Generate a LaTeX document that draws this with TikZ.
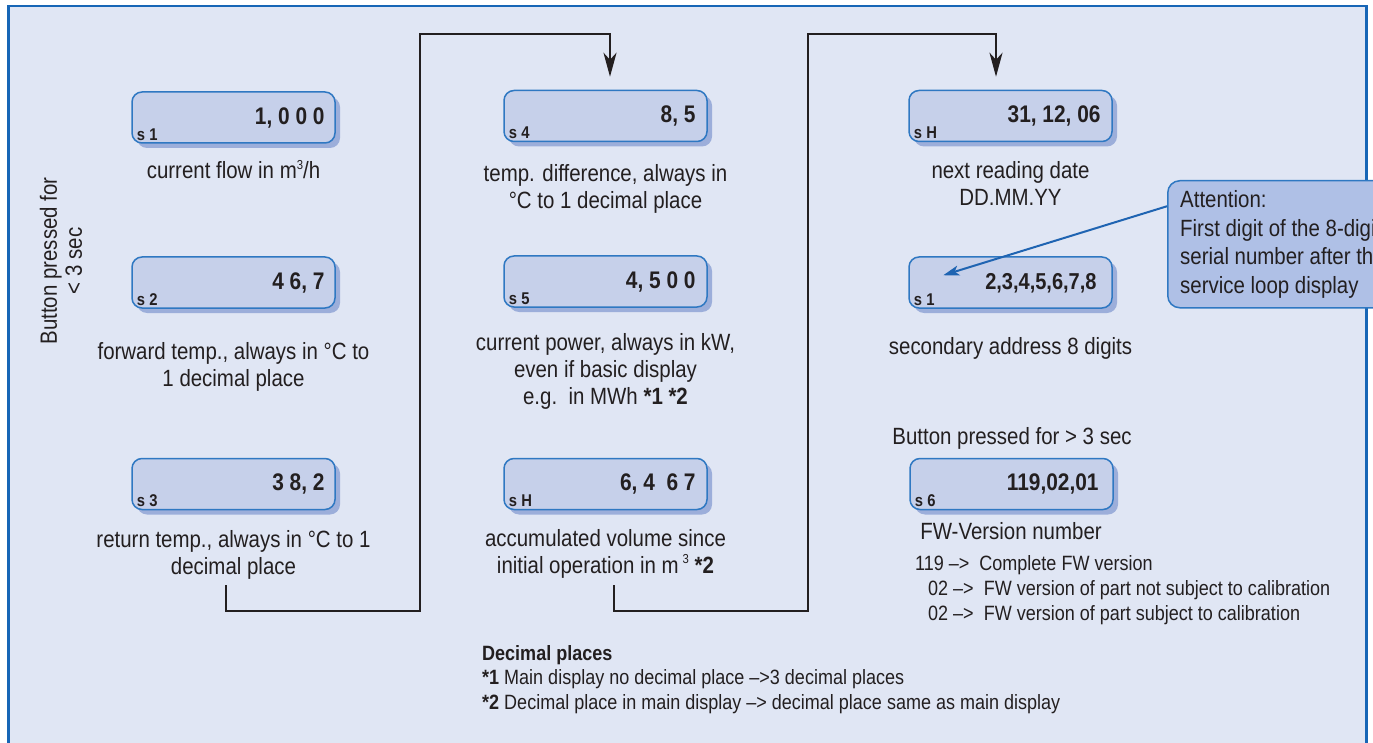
\documentclass[tikz,border=0pt]{standalone}
\usepackage{fontspec}
\setmainfont{Liberation Sans}[FakeStretch=0.87]
\usetikzlibrary{arrows.meta,shadows}

\definecolor{bgcol}{HTML}{E0E6F4}
\definecolor{framecol}{HTML}{1766B6}
\definecolor{boxfill}{HTML}{C6D0EA}
\definecolor{boxline}{HTML}{2F78C2}
\definecolor{shadowcol}{HTML}{9CAEDA}
\definecolor{callfill}{HTML}{AFC0E6}
\definecolor{txtcol}{HTML}{231F20}
\definecolor{pointcol}{HTML}{1F64B2}

\newcommand\labfont{\fontsize{23.5}{27}\selectfont}
\newcommand\callfont{\fontsize{23.5}{28.8}\selectfont}
\newcommand\valfont{\fontsize{24}{28}\selectfont\bfseries}
\newcommand\tagfont{\fontsize{17}{20}\selectfont\bfseries}
\newcommand\fwfont{\fontsize{20.7}{25}\selectfont}
\newcommand\notefont{\fontsize{20.7}{25}\selectfont}
% small raised exponent for units
\newcommand\unitexp[1]{\raisebox{0.42em}{\fontsize{13}{13}\selectfont #1}}

\begin{document}
\begin{tikzpicture}[x=1pt,y=-1pt,
  disp/.style={draw=boxline, line width=1.5pt, fill=boxfill, rounded corners=10pt,
    minimum width=203pt, minimum height=51pt, inner sep=0pt,
    drop shadow={shadow xshift=5pt, shadow yshift=-5pt, fill=shadowcol, opacity=1}},
  val/.style={font=\valfont, text=txtcol, inner sep=0pt, anchor=base east},
  tag/.style={font=\tagfont, text=txtcol, inner sep=0pt, anchor=base west},
  lbl/.style={font=\labfont, text=txtcol, align=center, inner sep=0pt},
  fwline/.style={font=\fwfont, text=txtcol, inner sep=0pt, anchor=base west},
  noteline/.style={font=\notefont, text=txtcol, inner sep=0pt, anchor=base west},
  flow/.style={draw=txtcol, line width=2.5pt, line join=miter, shorten >=13pt,
    -{Stealth[length=24pt, width=13pt, inset=7pt]}},
  pointer/.style={draw=pointcol, line width=2pt,
    -{Stealth[length=16pt, width=10pt, inset=4pt]}},
  callout/.style={draw=boxline, line width=1.5pt, fill=callfill, rounded corners=12pt,
    minimum width=260pt, minimum height=127pt, inner sep=0pt, anchor=north west}]

% page, clipping and outer frame
\useasboundingbox (0,0) rectangle (1373,743);
\clip (0,0) rectangle (1373,743);
\fill[white] (0,0) rectangle (1373,743);
\draw[draw=framecol, line width=2.6pt, fill=bgcol] (8.7,6.2) rectangle (1366.5,800);

% rotated hint on the left
\node[lbl, rotate=90, font=\fontsize{23.5}{25}\selectfont] (hint) at (61,261)
  {Button pressed for\\< 3 sec};

% ---- column 1 ----
\node[disp] (d1) at (233.5,117.5) {};
\node[val] (v1) at ([xshift=-11pt,yshift=-33pt]d1.north east) {1, 0 0 0};
\node[tag] (t1) at ([xshift=5.5pt,yshift=3.3pt]d1.south west) {s 1};
\node[lbl, anchor=base] (l1) at (233.5,179) {current flow in m\unitexp{3}/h};

\node[disp] (d2) at (233.5,282.5) {};
\node[val] (v2) at ([xshift=-11pt,yshift=-33pt]d2.north east) {4 6, 7};
\node[tag] (t2) at ([xshift=5.5pt,yshift=3.3pt]d2.south west) {s 2};
\node[lbl, anchor=north] (l2) at (233.5,342) {forward temp., always in °C to\\1 decimal place};

\node[disp] (d3) at (233.5,484) {};
\node[val] (v3) at ([xshift=-11pt,yshift=-33pt]d3.north east) {3 8, 2};
\node[tag] (t3) at ([xshift=5.5pt,yshift=3.3pt]d3.south west) {s 3};
\node[lbl, anchor=north] (l3) at (233.5,530) {return temp., always in °C to 1\\decimal place};

% ---- column 2 ----
\node[disp] (d4) at (605.5,116) {};
\node[val] (v4) at ([xshift=-12pt,yshift=-33pt]d4.north east) {8, 5};
\node[tag] (t4) at ([xshift=5.5pt,yshift=3.3pt]d4.south west) {s 4};
\node[lbl, anchor=north] (l4) at (605.5,164) {temp. difference, always in\\°C to 1 decimal place};

\node[disp] (d5) at (605.5,281.5) {};
\node[val] (v5) at ([xshift=-12pt,yshift=-33pt]d5.north east) {4, 5 0 0};
\node[tag] (t5) at ([xshift=5.5pt,yshift=3.3pt]d5.south west) {s 5};
\node[lbl, anchor=north] (l5) at (605.5,333)
  {current power, always in kW,\\even if basic display\\e.g.\ \ in MWh \textbf{*1 *2}};

\node[disp] (d6) at (605.5,484) {};
\node[val] (v6) at ([xshift=-12pt,yshift=-33pt]d6.north east) {6, 4\ \ 6 7};
\node[tag] (t6) at ([xshift=5.5pt,yshift=3.3pt]d6.south west) {s H};
\node[lbl, anchor=north] (l6) at (605.5,529)
  {accumulated volume since\\initial operation in m\,\unitexp{3} \textbf{*2}};

% ---- column 3 ----
\node[disp] (d7) at (1010.5,116) {};
\node[val] (v7) at ([xshift=-12pt,yshift=-33pt]d7.north east) {31, 12, 06};
\node[tag] (t7) at ([xshift=5.5pt,yshift=3.3pt]d7.south west) {s H};
\node[lbl, anchor=north] (l7) at (1010.5,161) {next reading date\\DD.MM.YY};

\node[disp] (d8) at (1010.5,282.5) {};
\node[val, font=\fontsize{23}{28}\selectfont\bfseries] (v8)
  at ([xshift=-16pt,yshift=-33pt]d8.north east) {2,3,4,5,6,7,8};
\node[tag] (t8) at ([xshift=5.5pt,yshift=3.3pt]d8.south west) {s 1};
\node[lbl, anchor=base] (l8) at (1010.5,354) {secondary address 8 digits};

\node[lbl, anchor=base] (l9) at (1012,444) {Button pressed for > 3 sec};

\node[disp] (d9) at (1011.5,484) {};
\node[val] (v9) at ([xshift=-15pt,yshift=-33pt]d9.north east) {119,02,01};
\node[tag] (t9) at ([xshift=5.5pt,yshift=3.3pt]d9.south west) {s 6};
\node[lbl, anchor=base] (l10) at (1011,539) {FW-Version number};

\node[fwline] (fw1) at (915,570) {119 –>\ \ Complete FW version};
\node[fwline] (fw2) at (928,595) {02 –>\ \ FW version of part not subject to calibration};
\node[fwline] (fw3) at (928,620) {02 –>\ \ FW version of part subject to calibration};

% ---- notes on decimal places ----
\node[noteline] (n0) at (482,660) {\textbf{Decimal places}};
\node[noteline] (n1) at (482,684) {\textbf{*1} Main display no decimal place –>3 decimal places};
\node[noteline] (n2) at (482,709) {\textbf{*2} Decimal place in main display –> decimal place same as main display};

% ---- flow connectors between the columns ----
\coordinate (p1) at (226,585);
\coordinate (p2) at (614,585);
\draw[flow] (p1) -- (226,611) -- (420,611) -- (420,34) -- (610,34) -- ([xshift=4.5pt]d4.north);
\draw[flow] (p2) -- (614,611) -- (808,611) -- (808,34) -- (996,34) -- ([xshift=-14.5pt]d7.north);

% ---- attention callout ----
\node[callout] (att) at (1167,180) {};
\node[font=\callfont, text=txtcol, align=left, inner sep=0pt, anchor=north west] (atttxt)
  at (1180,190) {Attention:\\First digit of the 8-digit\\serial number after the\\service loop display};
\draw[pointer] ([yshift=38pt]att.west) -- ([xshift=35pt,yshift=-19pt]d8.north west);

\end{tikzpicture}
\end{document}
